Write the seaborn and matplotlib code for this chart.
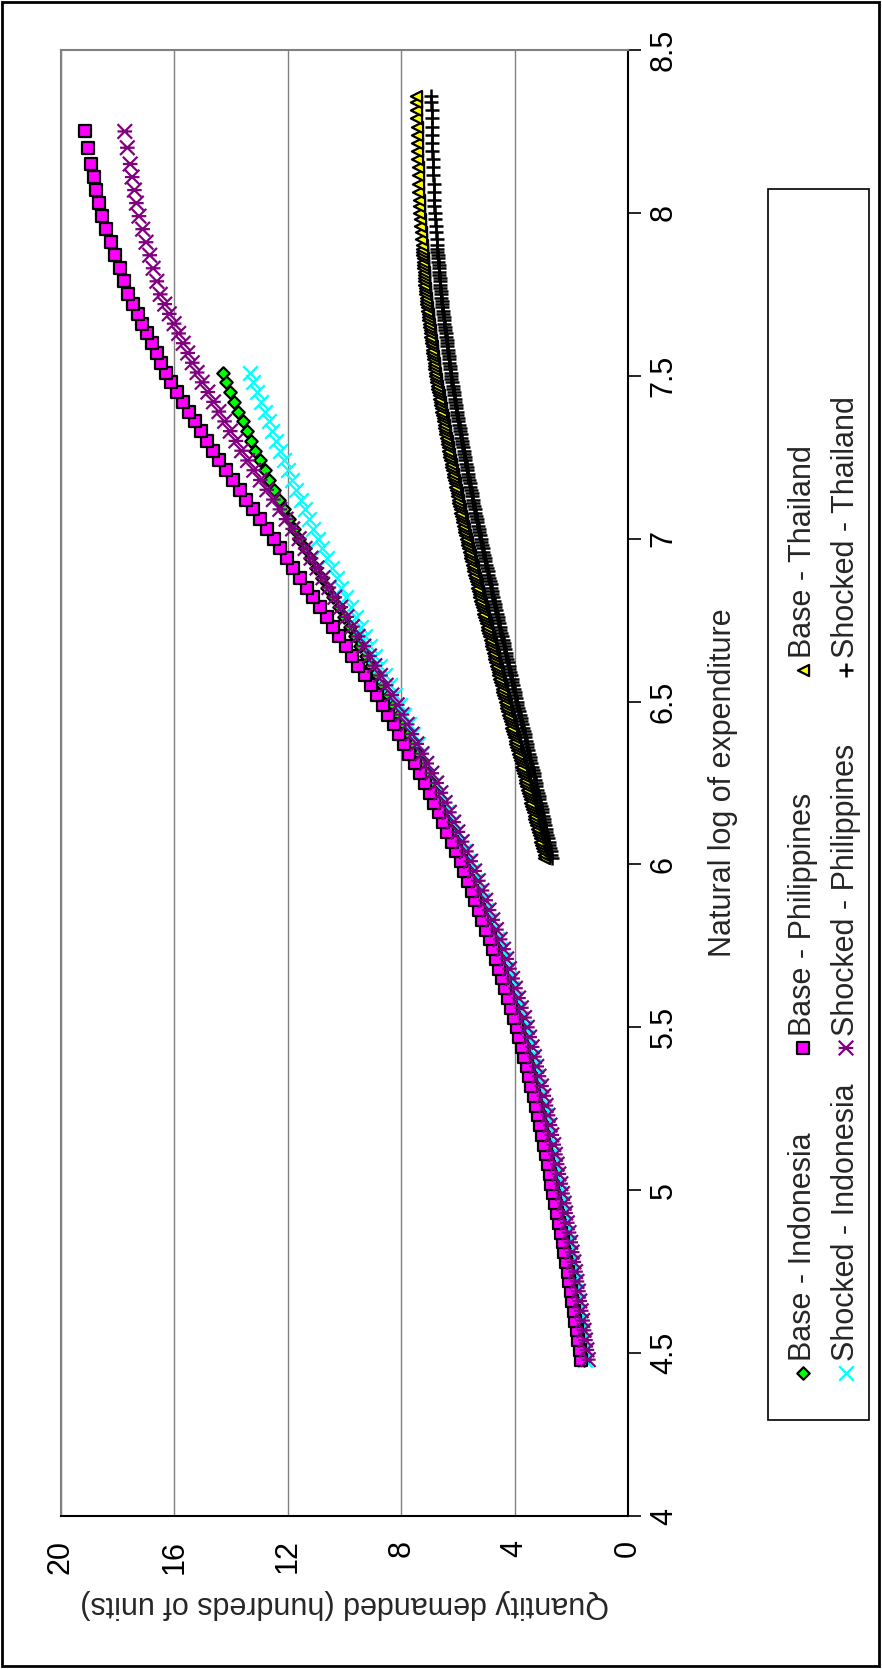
import matplotlib
matplotlib.use("Agg")
import matplotlib.pyplot as plt
import seaborn as sns
from matplotlib.path import Path
from matplotlib.markers import MarkerStyle
from matplotlib.patches import Rectangle

# natural log of expenditure
log_exp_low = [
    4.48, 4.51, 4.54, 4.57, 4.60, 4.63, 4.66, 4.69, 4.72, 4.75,
    4.78, 4.81, 4.84, 4.87, 4.90, 4.93, 4.96, 4.99, 5.02, 5.05,
    5.08, 5.11, 5.14, 5.17, 5.20, 5.23, 5.26, 5.29, 5.32, 5.35,
    5.38, 5.41, 5.44, 5.47, 5.50, 5.53, 5.56, 5.59, 5.62, 5.65,
    5.68, 5.71, 5.74, 5.77, 5.80, 5.83, 5.86, 5.89, 5.92, 5.95,
    5.98, 6.01, 6.04, 6.07, 6.10, 6.13, 6.16, 6.19, 6.22, 6.25,
    6.28, 6.31, 6.34, 6.37, 6.40, 6.43, 6.46, 6.49, 6.52, 6.55,
    6.58, 6.61, 6.64, 6.67, 6.70, 6.73, 6.76, 6.79, 6.82, 6.85,
    6.88, 6.91, 6.94, 6.97, 7.00, 7.03, 7.06, 7.09, 7.12, 7.15,
    7.18, 7.21, 7.24, 7.27, 7.30, 7.33, 7.36, 7.39, 7.42, 7.45,
    7.48, 7.51]
log_exp_phil_top = [7.54, 7.57, 7.60, 7.63, 7.66, 7.69, 7.72, 7.75, 7.79, 7.83,
                    7.87, 7.91, 7.95, 7.99, 8.03, 8.07, 8.11, 8.15, 8.20, 8.25]
log_exp_thai = [
    6.02, 6.03, 6.04, 6.05, 6.06, 6.07, 6.08, 6.09, 6.10, 6.11,
    6.12, 6.13, 6.14, 6.15, 6.16, 6.17, 6.18, 6.19, 6.20, 6.21,
    6.22, 6.23, 6.24, 6.25, 6.26, 6.27, 6.28, 6.29, 6.30, 6.31,
    6.32, 6.33, 6.34, 6.35, 6.36, 6.37, 6.38, 6.39, 6.40, 6.41,
    6.42, 6.43, 6.44, 6.45, 6.46, 6.47, 6.48, 6.49, 6.50, 6.51,
    6.52, 6.53, 6.54, 6.55, 6.56, 6.57, 6.58, 6.59, 6.60, 6.61,
    6.62, 6.63, 6.64, 6.65, 6.66, 6.67, 6.68, 6.69, 6.70, 6.71,
    6.72, 6.73, 6.74, 6.75, 6.76, 6.77, 6.78, 6.79, 6.80, 6.81,
    6.82, 6.83, 6.84, 6.85, 6.86, 6.87, 6.88, 6.89, 6.90, 6.91,
    6.92, 6.93, 6.94, 6.95, 6.96, 6.97, 6.98, 6.99, 7.00, 7.01,
    7.02, 7.03, 7.04, 7.05, 7.06, 7.07, 7.08, 7.09, 7.10, 7.11,
    7.12, 7.13, 7.14, 7.15, 7.16, 7.17, 7.18, 7.19, 7.20, 7.21,
    7.22, 7.23, 7.24, 7.25, 7.26, 7.27, 7.28, 7.29, 7.30, 7.31,
    7.32, 7.33, 7.34, 7.35, 7.36, 7.37, 7.38, 7.39, 7.40, 7.41,
    7.42, 7.43, 7.44, 7.45, 7.46, 7.47, 7.48, 7.49, 7.50, 7.51,
    7.52, 7.53, 7.54, 7.55, 7.56, 7.57, 7.58, 7.59, 7.60, 7.61,
    7.62, 7.63, 7.64, 7.65, 7.66, 7.67, 7.68, 7.69, 7.70, 7.71,
    7.72, 7.73, 7.74, 7.75, 7.76, 7.77, 7.78, 7.79, 7.80, 7.81,
    7.82, 7.83, 7.84, 7.85, 7.86, 7.87, 7.88, 7.89, 7.90,
    7.92, 7.94, 7.96, 7.98, 8.00, 8.02, 8.04, 8.065, 8.09, 8.115,
    8.14, 8.165, 8.19, 8.215, 8.24, 8.265, 8.29, 8.315, 8.34, 8.36]

# quantity demanded (hundreds of units)
base_indonesia = [
    1.55, 1.60, 1.65, 1.70, 1.75, 1.80, 1.85, 1.90, 1.95, 2.00,
    2.06, 2.12, 2.18, 2.24, 2.30, 2.36, 2.42, 2.48, 2.54, 2.61,
    2.68, 2.74, 2.81, 2.87, 2.94, 3.01, 3.08, 3.16, 3.25, 3.33,
    3.41, 3.50, 3.58, 3.67, 3.75, 3.85, 3.96, 4.06, 4.17, 4.27,
    4.38, 4.48, 4.59, 4.70, 4.83, 4.95, 5.07, 5.20, 5.32, 5.44,
    5.57, 5.70, 5.85, 6.00, 6.15, 6.30, 6.45, 6.60, 6.75, 6.90,
    7.07, 7.25, 7.42, 7.60, 7.77, 7.94, 8.12, 8.29, 8.48, 8.67,
    8.86, 9.05, 9.25, 9.44, 9.63, 9.82, 10.02, 10.21, 10.41, 10.61,
    10.81, 11.01, 11.20, 11.40, 11.60, 11.77, 11.95, 12.12, 12.30, 12.47,
    12.65, 12.82, 12.99, 13.15, 13.30, 13.44, 13.59, 13.74, 13.89, 14.03,
    14.18, 14.30]
shocked_indonesia = [
    1.50, 1.55, 1.60, 1.65, 1.70, 1.75, 1.80, 1.85, 1.90, 1.95,
    2.01, 2.07, 2.13, 2.19, 2.25, 2.31, 2.37, 2.43, 2.49, 2.56,
    2.62, 2.68, 2.75, 2.81, 2.87, 2.94, 3.01, 3.09, 3.18, 3.26,
    3.34, 3.43, 3.51, 3.60, 3.68, 3.78, 3.89, 3.99, 4.10, 4.20,
    4.31, 4.41, 4.52, 4.63, 4.76, 4.89, 5.01, 5.14, 5.26, 5.39,
    5.52, 5.65, 5.79, 5.94, 6.08, 6.22, 6.37, 6.51, 6.66, 6.80,
    6.96, 7.11, 7.27, 7.42, 7.58, 7.74, 7.89, 8.05, 8.22, 8.39,
    8.56, 8.74, 8.91, 9.09, 9.26, 9.43, 9.61, 9.77, 9.94, 10.11,
    10.28, 10.45, 10.61, 10.78, 10.95, 11.10, 11.25, 11.40, 11.55, 11.70,
    11.85, 12.00, 12.15, 12.29, 12.42, 12.55, 12.68, 12.82, 12.95, 13.08,
    13.21, 13.34]
base_philippines = [
    1.65, 1.70, 1.75, 1.81, 1.86, 1.91, 1.96, 2.02, 2.07, 2.12,
    2.18, 2.25, 2.31, 2.37, 2.44, 2.50, 2.57, 2.63, 2.70, 2.76,
    2.83, 2.90, 2.97, 3.04, 3.11, 3.17, 3.25, 3.33, 3.41, 3.50,
    3.58, 3.67, 3.75, 3.83, 3.92, 4.02, 4.13, 4.23, 4.34, 4.45,
    4.55, 4.66, 4.77, 4.88, 5.01, 5.14, 5.26, 5.39, 5.51, 5.64,
    5.77, 5.90, 6.06, 6.21, 6.37, 6.53, 6.68, 6.84, 6.99, 7.15,
    7.34, 7.52, 7.71, 7.89, 8.08, 8.27, 8.45, 8.64, 8.85, 9.07,
    9.29, 9.51, 9.73, 9.96, 10.18, 10.40, 10.63, 10.86, 11.10, 11.33,
    11.56, 11.80, 12.03, 12.27, 12.50, 12.74, 12.98, 13.22, 13.46, 13.70,
    13.94, 14.18, 14.42, 14.64, 14.85, 15.06, 15.27, 15.48, 15.69, 15.90,
    16.11, 16.30,
    16.46, 16.63, 16.80, 16.96, 17.13, 17.29, 17.46, 17.62, 17.78, 17.93,
    18.09, 18.25, 18.40, 18.56, 18.67, 18.75, 18.84, 18.93, 19.04, 19.15]
shocked_philippines = [
    1.40, 1.45, 1.50, 1.55, 1.60, 1.65, 1.70, 1.75, 1.80, 1.85,
    1.91, 1.97, 2.02, 2.08, 2.14, 2.20, 2.25, 2.31, 2.37, 2.44,
    2.50, 2.56, 2.62, 2.69, 2.75, 2.82, 2.89, 2.97, 3.05, 3.14,
    3.22, 3.30, 3.38, 3.47, 3.55, 3.65, 3.76, 3.86, 3.97, 4.07,
    4.18, 4.28, 4.39, 4.51, 4.64, 4.77, 4.90, 5.02, 5.15, 5.28,
    5.41, 5.55, 5.70, 5.85, 6.00, 6.15, 6.30, 6.45, 6.60, 6.75,
    6.92, 7.10, 7.27, 7.45, 7.62, 7.79, 7.97, 8.14, 8.33, 8.53,
    8.73, 8.93, 9.12, 9.32, 9.52, 9.72, 9.92, 10.13, 10.34, 10.55,
    10.76, 10.97, 11.18, 11.39, 11.60, 11.83, 12.06, 12.28, 12.51, 12.74,
    12.97, 13.20, 13.42, 13.63, 13.83, 14.03, 14.23, 14.43, 14.62, 14.82,
    15.02, 15.20,
    15.37, 15.53, 15.69, 15.85, 16.01, 16.18, 16.34, 16.50, 16.62, 16.75,
    16.87, 17.00, 17.12, 17.25, 17.34, 17.41, 17.49, 17.56, 17.66, 17.75]
base_thailand = [
    2.95, 2.98, 3.01, 3.04, 3.07, 3.10, 3.12, 3.15, 3.18, 3.21,
    3.24, 3.27, 3.30, 3.33, 3.36, 3.39, 3.42, 3.45, 3.47, 3.50,
    3.53, 3.56, 3.59, 3.62, 3.65, 3.68, 3.70, 3.73, 3.76, 3.79,
    3.82, 3.85, 3.88, 3.91, 3.94, 3.97, 4.00, 4.03, 4.06, 4.09,
    4.12, 4.14, 4.17, 4.20, 4.23, 4.26, 4.29, 4.32, 4.35, 4.38,
    4.41, 4.43, 4.46, 4.49, 4.52, 4.55, 4.57, 4.60, 4.63, 4.66,
    4.69, 4.71, 4.74, 4.77, 4.80, 4.83, 4.85, 4.88, 4.91, 4.94,
    4.97, 4.99, 5.02, 5.05, 5.08, 5.10, 5.13, 5.16, 5.18, 5.21,
    5.24, 5.26, 5.29, 5.32, 5.34, 5.37, 5.40, 5.42, 5.45, 5.48,
    5.51, 5.53, 5.56, 5.59, 5.61, 5.64, 5.67, 5.69, 5.72, 5.74,
    5.77, 5.79, 5.81, 5.84, 5.86, 5.88, 5.91, 5.93, 5.95, 5.98,
    6.00, 6.02, 6.04, 6.07, 6.09, 6.11, 6.14, 6.16, 6.18, 6.21,
    6.23, 6.25, 6.28, 6.30, 6.32, 6.34, 6.36, 6.38, 6.40, 6.42,
    6.44, 6.46, 6.48, 6.50, 6.52, 6.54, 6.56, 6.58, 6.60, 6.62,
    6.64, 6.66, 6.68, 6.70, 6.72, 6.74, 6.76, 6.78, 6.80, 6.81,
    6.83, 6.84, 6.86, 6.87, 6.88, 6.90, 6.91, 6.93, 6.94, 6.95,
    6.97, 6.98, 7.00, 7.01, 7.03, 7.04, 7.05, 7.07, 7.08, 7.10,
    7.11, 7.12, 7.14, 7.15, 7.16, 7.17, 7.18, 7.18, 7.19, 7.20,
    7.21, 7.22, 7.23, 7.23, 7.24, 7.25, 7.26, 7.27, 7.28,
    7.29, 7.31, 7.33, 7.34, 7.36, 7.37, 7.38, 7.39, 7.40, 7.41,
    7.42, 7.43, 7.44, 7.45, 7.46, 7.46, 7.47, 7.47, 7.48, 7.48]
shocked_thailand = [
    2.68, 2.70, 2.73, 2.75, 2.78, 2.80, 2.83, 2.85, 2.88, 2.90,
    2.93, 2.95, 2.98, 3.00, 3.03, 3.05, 3.08, 3.10, 3.13, 3.15,
    3.18, 3.20, 3.23, 3.25, 3.28, 3.30, 3.33, 3.36, 3.39, 3.41,
    3.44, 3.47, 3.49, 3.52, 3.55, 3.57, 3.60, 3.63, 3.65, 3.68,
    3.71, 3.74, 3.76, 3.79, 3.82, 3.84, 3.87, 3.90, 3.92, 3.95,
    3.97, 4.00, 4.03, 4.05, 4.08, 4.10, 4.13, 4.16, 4.18, 4.21,
    4.24, 4.26, 4.29, 4.31, 4.34, 4.37, 4.39, 4.42, 4.45, 4.47,
    4.50, 4.53, 4.55, 4.58, 4.60, 4.63, 4.65, 4.68, 4.70, 4.73,
    4.75, 4.78, 4.80, 4.83, 4.85, 4.88, 4.90, 4.93, 4.95, 4.98,
    5.00, 5.03, 5.05, 5.08, 5.10, 5.13, 5.15, 5.18, 5.20, 5.22,
    5.24, 5.27, 5.29, 5.31, 5.33, 5.36, 5.38, 5.40, 5.42, 5.45,
    5.47, 5.49, 5.51, 5.54, 5.56, 5.58, 5.60, 5.63, 5.65, 5.67,
    5.69, 5.72, 5.74, 5.76, 5.78, 5.80, 5.82, 5.84, 5.86, 5.88,
    5.90, 5.92, 5.94, 5.96, 5.98, 6.00, 6.02, 6.04, 6.06, 6.08,
    6.09, 6.11, 6.13, 6.15, 6.17, 6.19, 6.21, 6.23, 6.25, 6.26,
    6.28, 6.29, 6.31, 6.32, 6.33, 6.35, 6.36, 6.38, 6.39, 6.40,
    6.42, 6.43, 6.45, 6.46, 6.48, 6.49, 6.50, 6.52, 6.53, 6.55,
    6.56, 6.57, 6.59, 6.60, 6.61, 6.62, 6.63, 6.64, 6.64, 6.65,
    6.66, 6.67, 6.68, 6.69, 6.70, 6.71, 6.72, 6.73, 6.73,
    6.75, 6.77, 6.78, 6.80, 6.82, 6.83, 6.84, 6.85, 6.86, 6.87,
    6.88, 6.89, 6.90, 6.91, 6.92, 6.92, 6.93, 6.93, 6.94, 6.94]

series_names = ["Base - Indonesia", "Shocked - Indonesia", "Base - Philippines",
                "Shocked - Philippines", "Base - Thailand", "Shocked - Thailand"]
quantity_ticks = [0, 4, 8, 12, 16, 20]
log_exp_ticks = [4, 4.5, 5, 5.5, 6, 6.5, 7, 7.5, 8, 8.5]
log_exp_tick_labels = ["4", "4.5", "5", "5.5", "6", "6.5", "7", "7.5", "8", "8.5"]

log_exp_phil = log_exp_low + log_exp_phil_top
series_x = [log_exp_low, log_exp_low, log_exp_phil, log_exp_phil, log_exp_thai, log_exp_thai]
series_q = [base_indonesia, shocked_indonesia, base_philippines,
            shocked_philippines, base_thailand, shocked_thailand]

W, H = 882, 1669
FS = 22

sns.set_theme(style="white")
plt.rcParams["font.family"] = ["Liberation Sans", "DejaVu Sans"]

# Excel's star marker (x with a bar), lying on its side like the whole chart
star = Path([(-1, -1), (1, 1), (-1, 1), (1, -1), (-1, 0), (1, 0)],
            [Path.MOVETO, Path.LINETO, Path.MOVETO, Path.LINETO, Path.MOVETO, Path.LINETO])

styles = [
    dict(marker="D", s=40, color="#00FF00", edgecolor="black", linewidth=1.6),
    dict(marker="x", s=110, color="#00FFFF", linewidth=1.6),
    dict(marker="s", s=70, color="#FF00FF", edgecolor="black", linewidth=1.6),
    dict(marker=MarkerStyle(star, fillstyle="none"), s=110, color="#800080", linewidth=1.6),
    dict(marker="<", s=64, color="#FFFF00", edgecolor="black", linewidth=1.6),
    dict(marker="+", s=110, color="black", linewidth=1.8),
]

fig = plt.figure(figsize=(W / 100, H / 100), dpi=100)
fig.patch.set_facecolor("white")

# the chart is turned a quarter turn: quantity runs right-to-left, log expenditure bottom-to-top
ax = fig.add_axes([61 / W, 1 - 1516 / H, 567 / W, 1466 / H])
for q, x, st in zip(series_q, series_x, styles):
    sns.scatterplot(x=q, y=x, ax=ax, legend=False, **st)

ax.set_xlim(20, 0)
ax.set_ylim(4, 8.5)
ax.set_axisbelow(True)
ax.grid(axis="x", color="#808080", linewidth=1)
ax.grid(axis="y", visible=False)

ax.set_xticks(quantity_ticks)
ax.set_xticklabels([str(v) for v in quantity_ticks], rotation=90)
ax.set_yticks(log_exp_ticks)
ax.set_yticklabels(log_exp_tick_labels, rotation=90, va="center")
ax.yaxis.tick_right()
ax.yaxis.set_label_position("right")
ax.tick_params(axis="both", direction="out", length=9, width=1.2, colors="black", labelsize=FS)
ax.tick_params(axis="x", pad=8)
ax.tick_params(axis="y", pad=6)

for side in ["top", "left"]:
    ax.spines[side].set_color("#808080")
    ax.spines[side].set_linewidth(1.5)
for side in ["bottom", "right"]:
    ax.spines[side].set_color("black")
    ax.spines[side].set_linewidth(1.5)

ax.set_xlabel("Quantity demanded (hundreds of units)", fontsize=FS, rotation=180,
              ha="center", va="center")
ax.xaxis.set_label_coords(0.5, -(1604 - 1516) / 1466)
ax.set_ylabel("Natural log of expenditure", fontsize=FS, rotation=90, ha="center", va="center")
ax.yaxis.set_label_coords((723 - 61) / 567, 0.5)

# overlay in pixel units for the sideways legend and the chart frame
lax = fig.add_axes([0, 0, 1, 1])
lax.add_patch(Rectangle((2, 2), 877, 1664, fill=False, edgecolor="black", linewidth=2))
lax.add_patch(Rectangle((768, 189), 101, 1231, fill=False, edgecolor="black", linewidth=1.2))

legend_cols = [803, 846]
legend_rows = [1373, 1048, 670]
for i, (name, st) in enumerate(zip(series_names, styles)):
    lx = legend_cols[i % 2]
    ly = legend_rows[i // 2]
    sns.scatterplot(x=[lx], y=[ly], ax=lax, legend=False, **st)
    lax.text(lx, ly - 12, name, rotation=90, ha="center", va="bottom", fontsize=FS)
lax.set_xlim(0, W)
lax.set_ylim(H, 0)
lax.axis("off")

fig.savefig("out.png", dpi=100, facecolor="white")
